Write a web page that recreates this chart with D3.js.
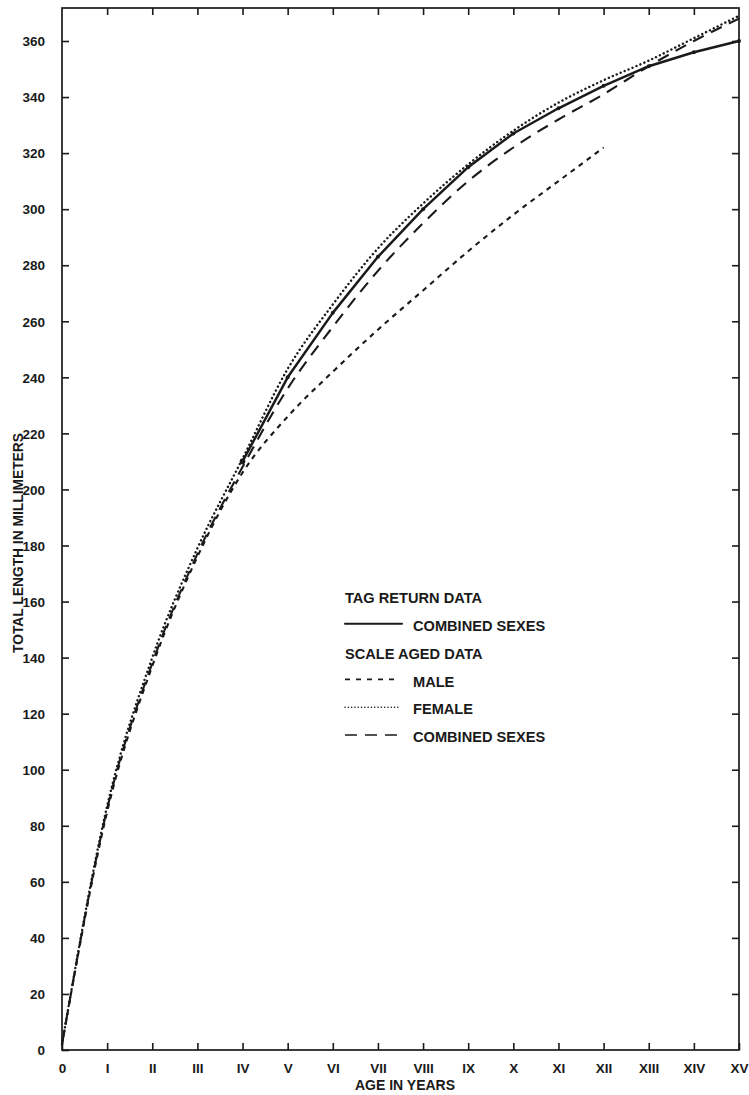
<!DOCTYPE html>
<html>
<head>
<meta charset="utf-8">
<script src="https://cdn.jsdelivr.net/npm/d3@7"></script>
<style>
  html, body { margin: 0; padding: 0; background: #fff; }
  svg { display: block; }
  text { font-family: "Liberation Sans", Arial, sans-serif; font-weight: bold; fill: #1a1a1a; }
</style>
</head>
<body>
<svg id="chart" width="749" height="1095"></svg>
<script>
// ---- data ----
const ages = [0, 1, 2, 3, 4, 5, 6, 7, 8, 9, 10, 11, 12, 13, 14, 15];
const ageLabels = ["0", "I", "II", "III", "IV", "V", "VI", "VII", "VIII", "IX", "X", "XI", "XII", "XIII", "XIV", "XV"];
const yTicks = [0, 20, 40, 60, 80, 100, 120, 140, 160, 180, 200, 220, 240, 260, 280, 300, 320, 340, 360];

// Tag return data, combined sexes (ages IV..XV)
const tagAges = [4, 5, 6, 7, 8, 9, 10, 11, 12, 13, 14, 15];
const tagCombined = [210, 240, 263, 283, 300, 315, 327, 336, 344, 351, 356, 360];

// Scale aged data
const maleAges = [0, 1, 2, 3, 4, 5, 6, 7, 8, 9, 10, 11, 12];
const scaleMale = [2, 85, 137, 176, 206, 226, 242, 257, 271, 285, 298, 310, 322];
const femaleAges = [0, 1, 2, 3, 4, 5, 6, 7, 8, 9, 10, 11, 12, 13, 14, 15];
const scaleFemale = [2, 87, 140, 179, 211, 243, 266, 286, 302, 316, 328, 338, 346, 353, 361, 369];
const combAges = [0, 1, 2, 3, 4, 5, 6, 7, 8, 9, 10, 11, 12, 13, 14, 15];
const scaleCombined = [2, 86, 138, 177, 208, 236, 258, 278, 295, 310, 322, 332, 341, 351, 360, 368];

const legendItems = [
  { type: "head", label: "TAG RETURN DATA" },
  { type: "solid", label: "COMBINED SEXES" },
  { type: "head", label: "SCALE AGED DATA" },
  { type: "male", label: "MALE" },
  { type: "female", label: "FEMALE" },
  { type: "comb", label: "COMBINED SEXES" }
];

// ---- layout ----
const svg = d3.select("#chart");
const pLeft = 62, pRight = 739, pTop = 8, pBottom = 1050;
const x = d3.scaleLinear().domain([0, 15]).range([pLeft, pRight]);
const y = d3.scaleLinear().domain([0, 360]).range([pBottom, 41]);
const ink = "#1a1a1a";
const tickLen = 7;

const styles = {
  solid:  { width: 2.5, dash: null, cap: "round" },
  male:   { width: 2.1, dash: "5,5", cap: "butt" },
  female: { width: 2.4, dash: "0.1,4.2", cap: "round" },
  comb:   { width: 2.1, dash: "12,8", cap: "butt" }
};

// frame
svg.append("rect")
  .attr("x", pLeft).attr("y", pTop)
  .attr("width", pRight - pLeft).attr("height", pBottom - pTop)
  .attr("fill", "none").attr("stroke", ink).attr("stroke-width", 1.7);

// axes (ticks pointing inward)
const xBottom = d3.axisBottom(x).tickValues(ages).tickFormat((d, i) => ageLabels[i])
  .tickSizeInner(-tickLen).tickSizeOuter(0).tickPadding(13);
const gxb = svg.append("g").attr("transform", `translate(0,${pBottom})`).call(xBottom);
const xTop = d3.axisTop(x).tickValues(ages.slice(1, 15)).tickFormat("")
  .tickSizeInner(-tickLen).tickSizeOuter(0);
const gxt = svg.append("g").attr("transform", `translate(0,${pTop})`).call(xTop);
const yLeft = d3.axisLeft(y).tickValues(yTicks).tickFormat(d3.format("d"))
  .tickSizeInner(-tickLen).tickSizeOuter(0).tickPadding(17);
const gyl = svg.append("g").attr("transform", `translate(${pLeft},0)`).call(yLeft);
const yRight = d3.axisRight(y).tickValues(yTicks.slice(1)).tickFormat("")
  .tickSizeInner(-tickLen).tickSizeOuter(0);
const gyr = svg.append("g").attr("transform", `translate(${pRight},0)`).call(yRight);

[gxb, gxt, gyl, gyr].forEach(g => {
  g.select(".domain").remove();
  g.selectAll(".tick line").attr("stroke", ink).attr("stroke-width", 1.6);
  g.selectAll(".tick text").style("font-size", "13.5px")
    .style("font-family", '"Liberation Sans", Arial, sans-serif')
    .style("font-weight", "bold").attr("fill", ink);
});
gyl.selectAll(".tick text").attr("dy", "0.35em");

// axis titles
svg.append("text").attr("x", 405).attr("y", 1090).attr("text-anchor", "middle")
  .style("font-size", "14px").text("AGE IN YEARS");
svg.append("text").attr("transform", "translate(23,543) rotate(-90)")
  .attr("text-anchor", "middle").style("font-size", "13.8px")
  .text("TOTAL LENGTH IN MILLIMETERS");

// curves
const smooth = d3.line().x(d => x(d[0])).y(d => y(d[1])).curve(d3.curveMonotoneX);
const straight = d3.line().x(d => x(d[0])).y(d => y(d[1])).curve(d3.curveLinear);

function drawSeries(xs, vs, st, gen) {
  const s = styles[st];
  svg.append("path")
    .datum(xs.map((a, i) => [a, vs[i]]))
    .attr("d", gen)
    .attr("fill", "none").attr("stroke", ink)
    .attr("stroke-width", s.width)
    .attr("stroke-dasharray", s.dash)
    .attr("stroke-linecap", s.cap)
    .attr("stroke-linejoin", "round");
}
drawSeries(maleAges, scaleMale, "male", smooth);
drawSeries(combAges, scaleCombined, "comb", smooth);
drawSeries(femaleAges, scaleFemale, "female", smooth);
drawSeries(tagAges, tagCombined, "solid", straight);

// small point marks on tag-return line
svg.append("g").selectAll("circle")
  .data(tagAges.map((a, i) => [a, tagCombined[i]]))
  .join("circle")
  .attr("cx", d => x(d[0])).attr("cy", d => y(d[1]))
  .attr("r", (d, i) => i === 0 ? 2.8 : 2.0).attr("fill", ink);

// legend
const lgX = 345, lgTextX = 413, lgY0 = 598, lgStep = 27.8;
const lg = svg.append("g");
legendItems.forEach((it, i) => {
  const cy = lgY0 + i * lgStep;
  if (it.type === "head") {
    lg.append("text").attr("x", lgX).attr("y", cy).attr("dy", "0.36em")
      .style("font-size", "14.6px").text(it.label);
  } else {
    const s = styles[it.type];
    const lineEnd = { solid: 402, male: 397, female: 398, comb: 403 }[it.type];
    lg.append("line")
      .attr("x1", lgX).attr("x2", lineEnd).attr("y1", cy - 2).attr("y2", cy - 2)
      .attr("stroke", ink).attr("stroke-width", it.type === "solid" ? 2 : (it.type === "female" ? 1.5 : 1.6))
      .attr("stroke-dasharray", it.type === "female" ? "0.1,3.2" : (it.type === "male" ? "5,6" : s.dash))
      .attr("stroke-linecap", s.cap);
    lg.append("text").attr("x", lgTextX).attr("y", cy).attr("dy", "0.36em")
      .style("font-size", "14.6px").text(it.label);
  }
});
</script>
</body>
</html>
